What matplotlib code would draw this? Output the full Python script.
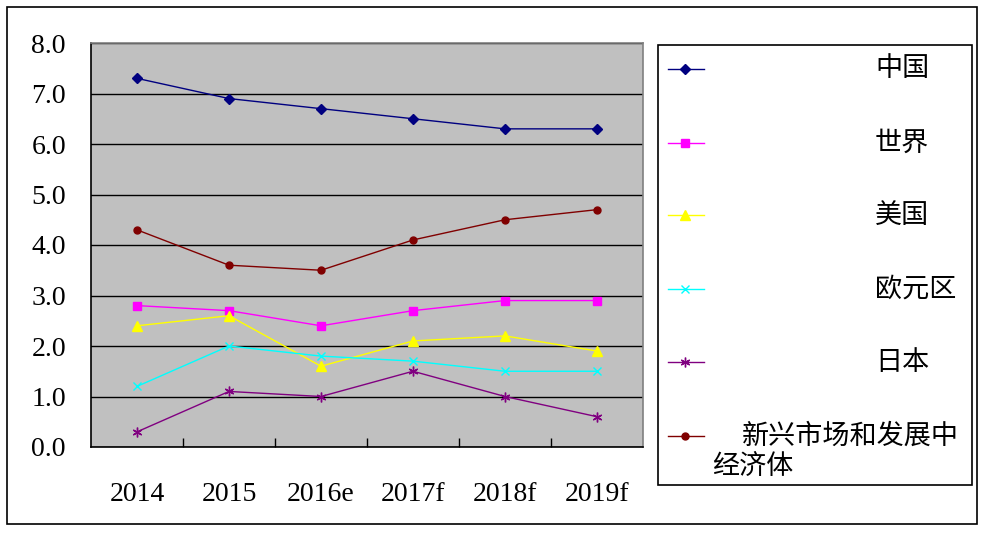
import matplotlib
matplotlib.use('Agg')
import matplotlib.pyplot as plt
from matplotlib.patches import Rectangle
from matplotlib.lines import Line2D

plt.rcParams['font.family'] = ['Liberation Serif', 'Noto Sans CJK SC']

years = ['2014', '2015', '2016e', '2017f', '2018f', '2019f']
china = [7.3, 6.9, 6.7, 6.5, 6.3, 6.3]
world = [2.8, 2.7, 2.4, 2.7, 2.9, 2.9]
usa = [2.4, 2.6, 1.6, 2.1, 2.2, 1.9]
euro = [1.2, 2.0, 1.8, 1.7, 1.5, 1.5]
japan = [0.3, 1.1, 1.0, 1.5, 1.0, 0.6]
emerging = [4.3, 3.6, 3.5, 4.1, 4.5, 4.7]

names = ['中国', '世界', '美国', '欧元区', '日本', '新兴市场和发展中经济体']
series = [china, world, usa, euro, japan, emerging]
colors = ['#000080', '#FF00FF', '#FFFF00', '#00FFFF', '#800080', '#800000']
markers = ['D', 's', '^', 'x', (6, 2, 0), 'o']
msizes = [5, 5.5, 6.5, 6, 7, 5]

W, H = 986, 533
fig = plt.figure(figsize=(W / 100, H / 100), dpi=100)

# outer frame
fig.patches.append(Rectangle((7 / W, 1 - 524 / H), 970 / W, 517 / H, transform=fig.transFigure,
                             fill=False, edgecolor='black', lw=1.2))

ax = fig.add_axes([91 / W, 1 - 447 / H, 552 / W, 404 / H])
ax.set_facecolor('#C0C0C0')
x = list(range(len(years)))
for s, c, m, ms in zip(series, colors, markers, msizes):
    ax.plot(x, s, color=c, marker=m, markersize=ms, lw=1.0, mew=1.0)

ax.set_xlim(-0.5, len(years) - 0.5)
ax.set_ylim(0, 8)
ax.set_yticks(range(0, 9))
ax.set_yticklabels(['%.1f' % v for v in range(0, 9)], fontsize=20)
ax.set_xticks(x)
ax.set_xticklabels(years, fontsize=20)
ax.set_xticks([i + 0.5 for i in x[:-1]], minor=True)
ax.tick_params(axis='x', which='major', length=0, pad=25)
ax.tick_params(axis='x', which='minor', direction='in', length=6.5, width=1, color='black')
ax.tick_params(axis='y', length=0, pad=18)
ax.set_axisbelow(True)
ax.yaxis.grid(True, color='black', lw=1)
ax.spines['left'].set_color('black')
ax.spines['bottom'].set_color('black')
ax.spines['top'].set_color('#808080')
ax.spines['right'].set_color('#808080')
for sp in ax.spines.values():
    sp.set_linewidth(1.2)

# legend box
fig.patches.append(Rectangle((658 / W, 1 - 485 / H), 314 / W, 440 / H, transform=fig.transFigure,
                             fill=False, edgecolor='black', lw=1.2))
cjk = ['Noto Sans CJK SC', 'DejaVu Sans']
entry_y = [69, 143, 215, 289, 362, 436]
for name, c, m, ms, yy in zip(names, colors, markers, msizes, entry_y):
    fy = 1 - yy / H
    fig.lines.append(Line2D([668 / W, 704 / W], [fy, fy], transform=fig.transFigure,
                            color=c, lw=1.0))
    fig.lines.append(Line2D([685 / W], [fy], transform=fig.transFigure, color=c,
                            marker=m, markersize=ms, mew=1.0))
    if len(name) > 4:
        fig.text(742 / W, fy, name[:8], fontsize=19.5, family=cjk, va='center')
        fig.text(712 / W, 1 - 467 / H, name[8:], fontsize=19.5, family=cjk, va='center')
    else:
        fig.text(875 / W, fy, name, fontsize=19.5, family=cjk, va='center')

fig.savefig('out.png', dpi=100)
